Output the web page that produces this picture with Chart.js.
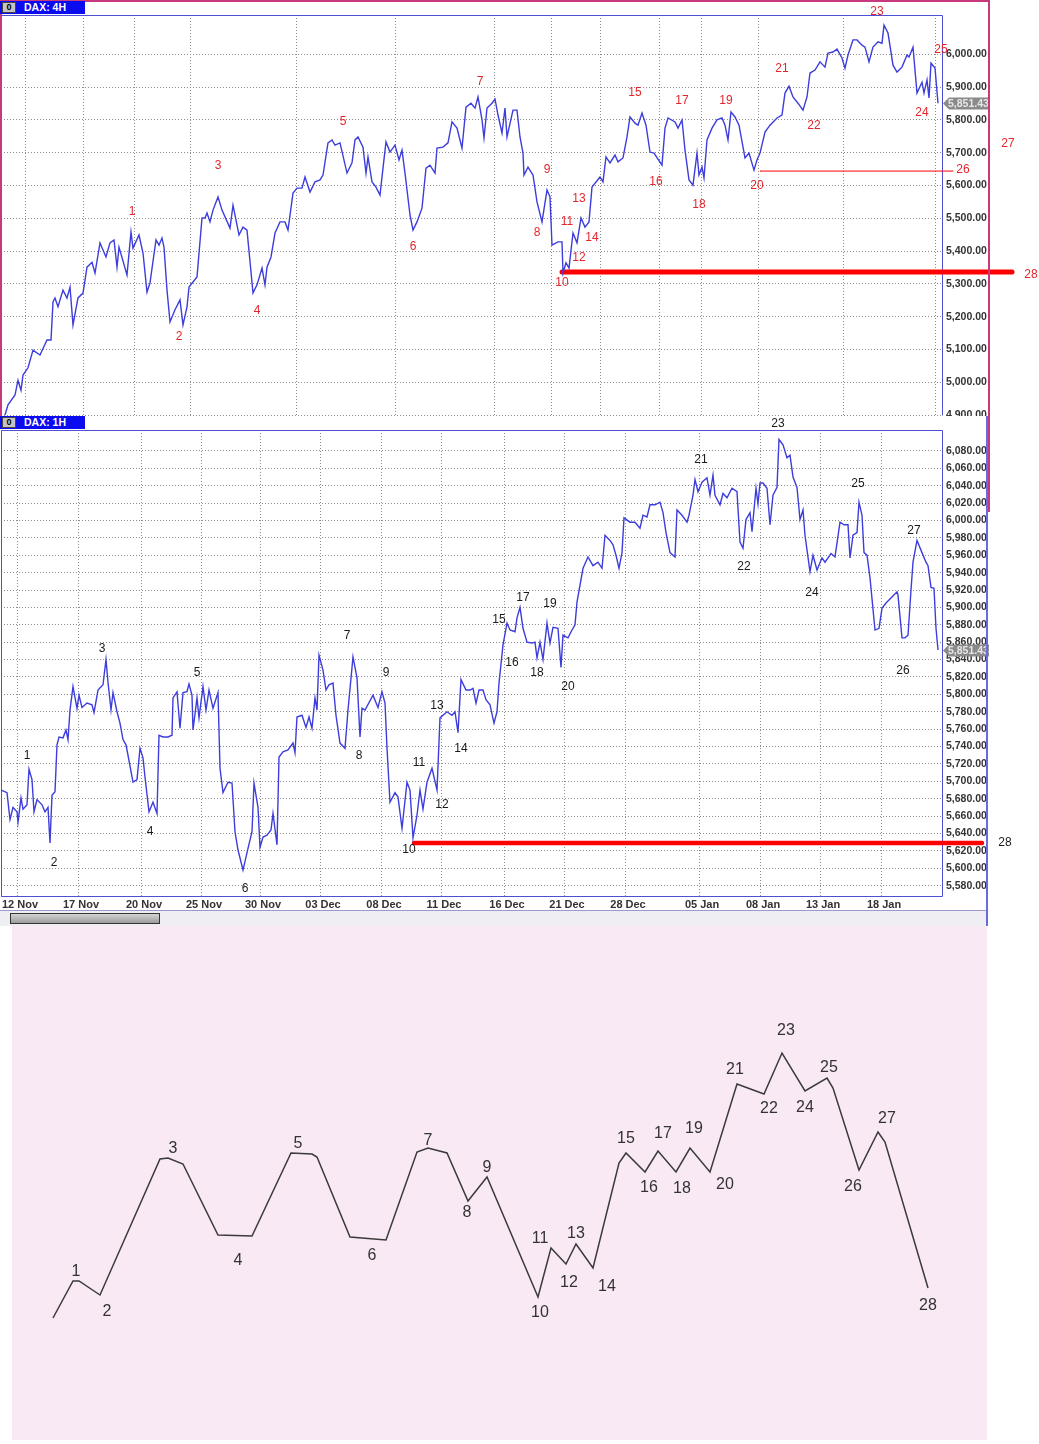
<!DOCTYPE html>
<html>
<head>
<meta charset="utf-8">
<title>DAX 4H / 1H wave count</title>
<script src="https://cdn.jsdelivr.net/npm/chart.js@4.4.1/dist/chart.umd.min.js"></script>
<style>
  html, body { margin: 0; padding: 0; background: #fff; }
  body { position: relative; width: 1039px; height: 1444px; overflow: hidden; font-family: Arial, "Liberation Sans", sans-serif; }
  canvas, .box { position: absolute; }
  #top { left: 0; top: 0; }
  #mid { left: 0; top: 416px; }
  #wave { left: 12px; top: 926px; }
  .hdr { position: absolute; left: 0; width: 85px; height: 13px; background: #0b0bf0; color: #fff; font-weight: bold; font-size: 10.5px; line-height: 13px; }
  .hdr .t { position: absolute; left: 24px; top: 0; }
  .hdr .ico { position: absolute; left: 2px; top: 1px; width: 12px; height: 9px; background: #c4c4c4; border: 1px solid #444; color: #000; font-size: 9px; line-height: 9px; text-align: center; }
</style>
</head>
<body>
<div class="box" style="left:12px;top:926px;width:975px;height:514px;background:#f8e9f4"></div>
<canvas id="top" width="1039" height="416"></canvas>
<canvas id="mid" width="1039" height="494"></canvas>
<canvas id="wave" width="975" height="514"></canvas>
<div class="box" style="left:0;top:0;width:990px;height:2px;background:#c8387c"></div>
<div class="box" style="left:0;top:0;width:2px;height:416px;background:#c8387c"></div>
<div class="box" style="left:988px;top:0;width:2px;height:512px;background:#c8387c"></div>
<div class="box" style="left:986px;top:416px;width:2px;height:510px;background:#6a6ae0"></div>
<div class="hdr" style="top:1px"><span class="ico">0</span><span class="t">DAX: 4H</span></div>
<div class="hdr" style="top:416px"><span class="ico">0</span><span class="t">DAX: 1H</span></div>
<div class="box" style="left:0;top:910px;width:986px;height:15px;background:#efeff3;border-top:1px solid #9a9ad0"></div>
<div class="box" style="left:10px;top:913px;width:148px;height:9px;border:1px solid #333;background:linear-gradient(#d4d4d4,#9c9c9c)"></div>
<script>
// ---- DAX 4H (top panel), x = bar position, y = index level
const topX = [5,8,15,18,21,23,28,33,40,47,
  51,53,55,58,63,67,70,73,78,83,
  87,92,95,100,106,110,114,117,119,127,
  131,133,139,143,147,150,156,159,162,164,
  167,170,175,180,183,187,189,197,202,205,
  207,210,213,218,222,230,233,239,243,247,
  253,257,262,265,267,271,275,280,285,288,
  293,297,302,305,310,315,320,323,328,332,
  335,340,347,352,355,358,363,366,368,372,
  376,380,383,386,390,395,399,402,405,410,
  413,417,422,426,430,435,437,443,448,452,
  457,462,466,471,475,478,482,484,487,492,
  495,498,502,505,507,513,517,520,523,524,
  528,533,537,542,547,550,552,558,562,563,
  566,569,573,577,581,585,589,592,600,603,
  606,610,615,618,623,627,630,635,638,642,
  646,650,654,662,665,668,675,678,682,685,
  689,693,697,699,702,704,707,712,717,722,
  725,728,731,735,739,745,749,754,757,760,
  765,770,777,782,785,789,793,798,803,807,
  810,815,820,825,828,833,837,842,845,848,
  853,857,862,865,869,873,878,882,884,888,
  893,897,902,907,909,913,917,922,924,927,
  929,931,935,938];
const topY = [4900,4931,4961,5006,4976,5022,5044,5098,5083,5129,
  5129,5245,5257,5230,5281,5257,5290,5175,5257,5272,
  5351,5366,5333,5425,5382,5425,5434,5351,5412,5327,
  5458,5409,5449,5394,5275,5303,5434,5418,5440,5412,
  5281,5184,5221,5251,5175,5230,5290,5321,5501,5501,
  5516,5489,5525,5565,5525,5470,5540,5449,5473,5464,
  5272,5297,5348,5297,5351,5382,5455,5489,5489,5464,
  5577,5592,5592,5626,5580,5611,5617,5632,5730,5739,
  5723,5730,5638,5669,5739,5748,5717,5638,5687,5611,
  5595,5571,5653,5733,5702,5723,5678,5708,5638,5510,
  5464,5489,5531,5653,5662,5638,5714,5717,5730,5794,
  5775,5714,5839,5851,5836,5870,5800,5745,5836,5851,
  5864,5815,5760,5836,5748,5830,5830,5748,5699,5632,
  5656,5632,5550,5489,5586,5565,5418,5428,5428,5333,
  5364,5348,5455,5425,5501,5473,5489,5595,5626,5611,
  5687,5669,5693,5672,5684,5748,5809,5790,5784,5821,
  5784,5702,5699,5662,5775,5806,5794,5775,5800,5708,
  5617,5601,5699,5632,5656,5623,5739,5775,5800,5806,
  5784,5739,5824,5809,5784,5684,5699,5647,5678,5699,
  5763,5784,5806,5815,5882,5903,5870,5851,5830,5870,
  5943,5952,5977,5961,6004,6007,6016,5989,5958,5998,
  6044,6044,6028,6022,5977,6022,6038,6034,6089,6065,
  5967,5946,5961,5998,5992,6022,5882,5915,5882,5922,
  5867,5973,5958,5851];
const topGridX = [25, 83, 134, 190, 296, 395, 494, 551, 600, 659, 701, 758, 843, 935];
const topTicksY = [4900, 5000, 5100, 5200, 5300, 5400, 5500, 5600, 5700, 5800, 5900, 6000];
const topWaveX = [132,179,218,257,343,413,480,537,547,562,567,579,579,592,635,656,682,699,726,757,782,814,877,922,941,963,1008,1031];
const topWaveY = [5519,5138,5659,5217,5794,5412,5916,5455,5647,5303,5489,5379,5559,5440,5882,5611,5858,5541,5858,5598,5955,5781,6129,5821,6013,5647,5726,5327];
const topSupport = 5336, topSupportX = [562, 1012];
const topLevel26 = 5644, topLevel26X = [760, 953];

// ---- DAX 1H (middle panel)
const midX = [0,3,7,10,13,17,18,21,23,27,
  29,32,34,37,42,45,48,50,52,55,
  57,59,63,66,68,70,73,77,79,82,
  87,92,94,98,103,106,108,111,113,117,
  120,123,126,128,133,137,140,143,145,149,
  153,157,159,163,168,172,173,177,180,183,
  187,189,192,193,197,199,203,206,209,213,
  218,220,223,228,232,235,238,243,248,252,
  254,258,260,263,267,271,273,277,279,283,
  288,293,295,297,302,306,309,312,315,317,
  319,323,326,329,333,336,340,345,348,353,
  357,360,362,365,373,378,382,385,387,390,
  395,398,402,407,410,413,417,420,423,427,
  432,437,440,447,452,455,458,461,466,470,
  473,476,479,483,486,490,494,497,499,503,
  507,510,515,517,520,523,527,532,535,537,
  540,543,547,550,553,558,561,563,568,572,
  575,577,583,588,593,598,602,605,610,613,
  616,619,622,624,630,635,640,643,647,650,
  655,660,663,666,670,675,677,682,687,689,
  693,695,698,702,707,710,713,715,720,723,
  727,732,737,740,743,746,750,752,756,758,
  760,763,767,770,773,777,779,783,787,790,
  793,797,800,803,805,810,813,817,822,825,
  831,835,840,844,848,850,853,857,859,862,
  864,867,870,875,879,882,886,892,897,898,
  902,905,908,911,913,917,922,926,928,931,
  934,936,938];
const midY = [5690,5689,5687,5656,5670,5665,5653,5681,5668,5673,
  5714,5702,5665,5679,5673,5665,5670,5629,5684,5688,
  5742,5751,5750,5759,5748,5782,5809,5784,5799,5785,
  5790,5788,5779,5805,5811,5840,5814,5782,5802,5780,
  5767,5748,5742,5730,5699,5702,5738,5727,5705,5665,
  5676,5663,5753,5751,5751,5753,5796,5803,5761,5802,
  5803,5812,5799,5759,5796,5773,5809,5782,5805,5784,
  5802,5715,5687,5699,5698,5642,5621,5598,5623,5642,
  5698,5670,5624,5636,5638,5644,5663,5627,5728,5734,
  5736,5744,5733,5774,5776,5762,5774,5761,5796,5782,
  5845,5828,5805,5811,5813,5776,5744,5738,5782,5843,
  5819,5751,5784,5782,5799,5785,5803,5790,5738,5676,
  5687,5682,5646,5699,5690,5635,5661,5690,5668,5699,
  5715,5690,5773,5780,5776,5780,5756,5817,5805,5805,
  5807,5790,5805,5805,5794,5788,5767,5780,5813,5857,
  5882,5874,5872,5888,5900,5876,5860,5859,5860,5842,
  5860,5840,5882,5859,5877,5876,5831,5868,5865,5874,
  5880,5906,5945,5958,5948,5952,5945,5983,5977,5972,
  5960,5945,5963,6003,5998,5998,5991,6006,6004,6018,
  6018,6021,6009,5986,5963,5958,6012,6006,5998,6006,
  6029,6047,6033,6044,6049,6029,6052,6029,6018,6031,
  6026,6037,6033,5975,5968,6001,6009,5987,6037,6019,
  6043,6043,6037,5995,6029,6038,6093,6087,6072,6075,
  6050,6038,6001,6012,5983,5941,5960,5943,5957,5952,
  5962,5958,5998,5995,5995,5957,5983,5986,6021,6006,
  5963,5960,5934,5874,5876,5899,5905,5912,5918,5914,
  5865,5865,5868,5920,5952,5977,5963,5952,5948,5923,
  5922,5876,5851];
const midGridX = [17, 78, 141, 201, 260, 320, 381, 441, 504, 564, 625, 699, 760, 820, 881];
const midDates = ['12 Nov', '17 Nov', '20 Nov', '25 Nov', '30 Nov', '03 Dec', '08 Dec', '11 Dec', '16 Dec', '21 Dec', '28 Dec', '05 Jan', '08 Jan', '13 Jan', '18 Jan'];
const midTicksY = [];
for (let v = 5580; v <= 6080; v += 20) midTicksY.push(v);
const midWaveX = [27,54,102,150,197,245,347,359,386,409,419,442,437,461,499,512,523,537,550,568,701,744,778,812,858,903,914,1005];
const midWaveY = [5729,5607,5852,5642,5825,5577,5867,5729,5825,5621,5722,5673,5787,5738,5886,5837,5911,5825,5904,5809,6070,5947,6111,5917,6042,5827,5988,5629];
const midSupport = 5629, midSupportX = [414, 982];

const lastPrice = 5851.43;
const waveNames = ['1','2','3','4','5','6','7','8','9','10','11','12','13','14','15','16','17','18','19','20','21','22','23','24','25','26','27','28'];

// ---- schematic wave (bottom panel), arbitrary step / level units
const waveX = [41,61,67,88,148,156,171,206,240,279,300,305,338,374,405,416,435,456,475,526,539,554,564,581,607,614,633,646,664,678,698,725,752,770,793,815,821,847,866,873,916];
const waveY = [122,159,159,145,281,282,276,205,204,287,286,283,203,200,288,292,287,239,263,143,192,176,196,172,277,287,268,289,268,292,268,356,346,387,349,362,352,270,308,298,152];
const waveLblX = [64,95,161,226,286,360,416,455,475,528,528,557,564,595,614,637,651,670,682,713,723,757,774,793,817,841,875,916];
const waveLblY = [168,128,291,179,296,184,299,227,272,127,201,157,206,153,301,252,306,251,311,255,370,331,409,332,372,253,321,134];

const FONT = 'Arial, "Liberation Sans", sans-serif';
Chart.defaults.font.family = FONT;
const fmt = v => v.toLocaleString('en-US', { minimumFractionDigits: 2, maximumFractionDigits: 2 });
const pts = (xs, ys) => xs.map((x, i) => ({ x, y: ys[i] }));
const flat = (xs, level) => xs.map(x => ({ x, y: level }));

function textLayer(texts, xs, ys, color, font) {
  return {
    id: 'textLayer',
    afterDatasetsDraw(chart) {
      const { ctx, scales: { x, y } } = chart;
      ctx.save();
      ctx.fillStyle = color;
      ctx.font = font;
      ctx.textAlign = 'center';
      ctx.textBaseline = 'middle';
      texts.forEach((t, i) => ctx.fillText(t, x.getPixelForValue(xs[i]), y.getPixelForValue(ys[i])));
      ctx.restore();
    }
  };
}

function frame(color, withLeft) {
  return {
    id: 'frame',
    beforeDatasetsDraw(chart) {
      const { ctx, chartArea: a } = chart;
      const l = a.left + 0.5, t = a.top + 0.5, r = a.right + 0.5, b = a.bottom - 0.5;
      ctx.save();
      ctx.strokeStyle = color;
      ctx.lineWidth = 1;
      ctx.beginPath();
      if (withLeft) { ctx.moveTo(l, b); ctx.lineTo(l, t); } else ctx.moveTo(l, t);
      ctx.lineTo(r, t);
      ctx.lineTo(r, b);
      if (withLeft) ctx.lineTo(l, b);
      ctx.stroke();
      ctx.restore();
    }
  };
}

function priceTag(value) {
  return {
    id: 'priceTag',
    afterDraw(chart) {
      const { ctx, chartArea: a } = chart;
      const y = Math.round(chart.scales.y.getPixelForValue(value)) + 0.5;
      const x = a.right + 1;
      ctx.save();
      ctx.fillStyle = '#8a8a8a';
      ctx.beginPath();
      ctx.moveTo(x, y);
      ctx.lineTo(x + 6, y - 6);
      ctx.lineTo(x + 46, y - 6);
      ctx.lineTo(x + 46, y + 6);
      ctx.lineTo(x + 6, y + 6);
      ctx.closePath();
      ctx.fill();
      ctx.fillStyle = '#e6e6e6';
      ctx.font = 'bold 10.5px ' + FONT;
      ctx.textBaseline = 'middle';
      ctx.fillText(fmt(value), x + 5, y + 0.5);
      ctx.restore();
    }
  };
}

const dotted = { color: '#8c8c8c', lineWidth: 1, drawTicks: false };
const noBorder = { display: false, dash: [1, 2] };
const axisFont = { size: 10.5, weight: 'bold' };
const baseOpts = {
  responsive: false,
  animation: false,
  events: [],
  devicePixelRatio: 1,
  plugins: { legend: { display: false }, tooltip: { enabled: false } }
};
const priceLine = data => ({ data, borderColor: '#3d3ddd', borderWidth: 1.4, pointRadius: 0, tension: 0 });
const redLine = (data, w) => ({ data, borderColor: '#ff0000', borderWidth: w, pointRadius: 0, clip: false, borderCapStyle: 'round' });

// top: DAX 4H
new Chart(document.getElementById('top'), {
  type: 'line',
  data: {
    datasets: [
      priceLine(pts(topX, topY)),
      redLine(flat(topSupportX, topSupport), 5),
      redLine(flat(topLevel26X, topLevel26), 1)
    ]
  },
  options: {
    ...baseOpts,
    layout: { padding: { left: 1, top: 15, right: 49, bottom: 0 }, autoPadding: false },
    scales: {
      x: {
        type: 'linear', min: 1, max: 942,
        afterBuildTicks: s => { s.ticks = topGridX.map(v => ({ value: v })); },
        ticks: { display: false },
        grid: dotted, border: noBorder,
        afterFit: s => { s.height = 0; s.paddingLeft = 0; s.paddingRight = 0; }
      },
      y: {
        position: 'right', min: 4897, max: 6120,
        afterBuildTicks: s => { s.ticks = topTicksY.map(v => ({ value: v })); },
        ticks: { padding: 4, color: '#333', font: axisFont, callback: fmt },
        grid: dotted, border: noBorder,
        afterFit: s => { s.width = 48; s.paddingTop = 0; s.paddingBottom = 0; }
      }
    }
  },
  plugins: [frame('#4f4fd6', false), textLayer(waveNames, topWaveX, topWaveY, '#e3262e', '12px ' + FONT), priceTag(lastPrice)]
});

// middle: DAX 1H
new Chart(document.getElementById('mid'), {
  type: 'line',
  data: {
    datasets: [
      priceLine(pts(midX, midY)),
      redLine(flat(midSupportX, midSupport), 4.5)
    ]
  },
  options: {
    ...baseOpts,
    layout: { padding: { left: 1, top: 14, right: 49, bottom: 0 }, autoPadding: false },
    scales: {
      x: {
        type: 'linear', min: 1, max: 942,
        afterBuildTicks: s => { s.ticks = midGridX.map(v => ({ value: v })); },
        ticks: { padding: 1, labelOffset: 3, color: '#333', font: { size: 11, weight: 'bold' }, maxRotation: 0, autoSkip: false,
                 callback: (v, i) => midDates[i] },
        grid: dotted, border: noBorder,
        afterFit: s => { s.height = 13; s.paddingLeft = 0; s.paddingRight = 0; }
      },
      y: {
        position: 'right', min: 5567, max: 6104,
        afterBuildTicks: s => { s.ticks = midTicksY.map(v => ({ value: v })); },
        ticks: { padding: 4, color: '#333', font: axisFont, callback: fmt },
        grid: dotted, border: noBorder,
        afterFit: s => { s.width = 48; s.paddingTop = 0; s.paddingBottom = 0; }
      }
    }
  },
  plugins: [frame('#4f4fd6', true), textLayer(waveNames, midWaveX, midWaveY, '#1a1a1a', '12px ' + FONT), priceTag(lastPrice)]
});

// bottom: schematic of the count
new Chart(document.getElementById('wave'), {
  type: 'line',
  data: {
    datasets: [{ data: pts(waveX, waveY), borderColor: '#3a3a3a', borderWidth: 1.5, pointRadius: 0, tension: 0 }]
  },
  options: {
    ...baseOpts,
    layout: { padding: 0, autoPadding: false },
    scales: {
      x: { type: 'linear', display: false, min: 0, max: 975 },
      y: { display: false, min: 0, max: 514 }
    }
  },
  plugins: [textLayer(waveNames, waveLblX, waveLblY, '#333', '16px ' + FONT)]
});
</script>
</body>
</html>
